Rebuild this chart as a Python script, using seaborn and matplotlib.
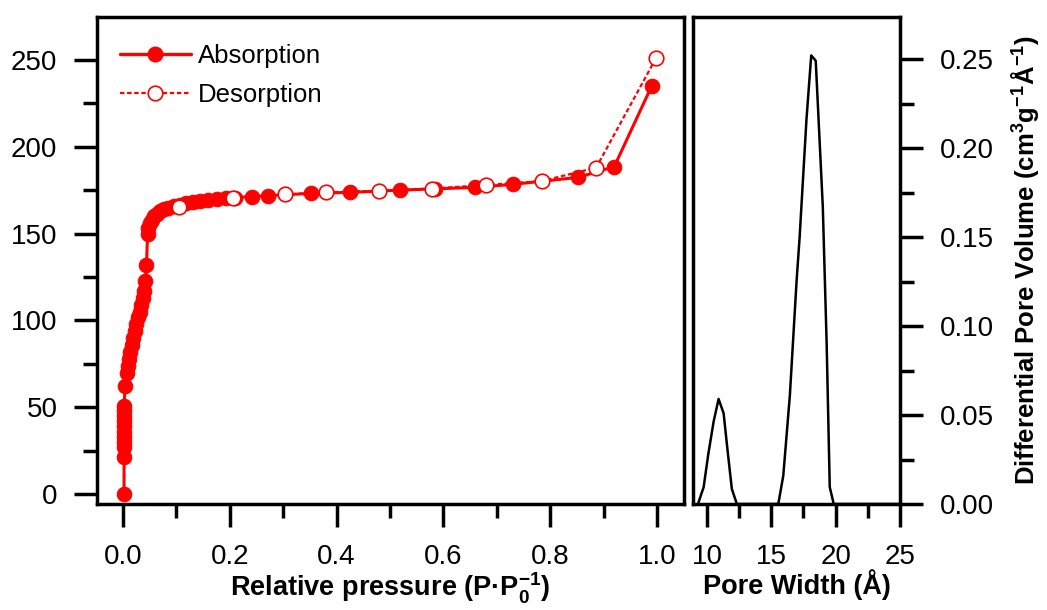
import matplotlib
matplotlib.use("Agg")
import matplotlib.pyplot as plt
import seaborn as sns
from matplotlib.ticker import MultipleLocator, FormatStrFormatter
from matplotlib.lines import Line2D

# ---------------- data ----------------
ads_p = [0.002, 0.002, 0.002, 0.002, 0.002, 0.002, 0.002, 0.002, 0.002, 0.002, 0.002,
         0.004, 0.007, 0.009, 0.011, 0.013, 0.016, 0.019, 0.022, 0.025, 0.028, 0.031,
         0.034, 0.037, 0.040, 0.042, 0.044, 0.046, 0.047, 0.050, 0.054, 0.058, 0.063,
         0.069, 0.076, 0.085, 0.095, 0.106, 0.118, 0.131, 0.145, 0.160, 0.176, 0.193,
         0.210, 0.241, 0.271, 0.353, 0.425, 0.518, 0.585, 0.660, 0.730, 0.852, 0.920, 0.990]
ads_v = [0.0, 21.5, 27, 30, 33, 36, 39, 42, 45, 48, 51,
         62, 70, 74, 78, 82, 86, 90, 94, 98, 102, 105,
         109, 113, 117, 123, 132, 150, 153, 156, 158, 160, 161.5,
         163, 164, 165, 166, 166.8, 167.5, 168.2, 168.8, 169.3, 169.8, 170.3,
         170.8, 171.3, 171.9, 173.2, 173.8, 175.1, 175.8, 176.7, 178.4, 182.4, 188.6, 235]

des_p = [0.998, 0.886, 0.784, 0.679, 0.579, 0.479, 0.380, 0.303, 0.206, 0.104]
des_v = [251, 188, 180.3, 178, 176, 174.7, 173.8, 172.6, 170.7, 165.5]

pore_w = [9.3, 9.74, 10.1, 10.52, 10.9, 11.29, 11.6, 11.93, 12.32, 15.54, 15.93, 16.44,
          16.96, 17.2, 17.73, 18.1, 18.45, 19.0, 19.3, 19.54, 19.85, 25.0]
pore_dv = [0.0, 0.0095, 0.028, 0.0465, 0.059, 0.051, 0.03, 0.0085, 0.0, 0.0, 0.016, 0.061,
           0.125, 0.15, 0.216, 0.252, 0.249, 0.167, 0.09, 0.0095, 0.0, 0.0]

series_labels = ["Absorption", "Desorption"]

# ---------------- style ----------------
sns.set_style("white")
plt.rcParams["font.family"] = ["Liberation Sans", "DejaVu Sans"]
plt.rcParams["mathtext.fontset"] = "custom"
plt.rcParams["mathtext.rm"] = "Liberation Sans:bold"
plt.rcParams["mathtext.bf"] = "Liberation Sans:bold"
plt.rcParams["mathtext.default"] = "bf"
for k in ("text.color", "axes.labelcolor", "xtick.color", "ytick.color", "axes.edgecolor"):
    plt.rcParams[k] = "black"

RED = "#ff0000"
TICK_FS = 20
LAB_FS = 19.5
SPW = 2.5

fig = plt.figure(figsize=(10.47, 6.10), dpi=100)
W, H = 1047, 610
ax1 = fig.add_axes([97 / W, 1 - 504 / H, (684 - 97) / W, (504 - 17) / H])
ax2 = fig.add_axes([693 / W, 1 - 504 / H, (900 - 693) / W, (504 - 17) / H])

# ---------------- left: isotherm ----------------
sns.lineplot(x=ads_p, y=ads_v, ax=ax1, estimator=None, sort=False, color=RED,
             linewidth=2.2, marker="o", markersize=10.5, markeredgecolor=RED,
             markerfacecolor=RED, zorder=2)
sns.lineplot(x=des_p, y=des_v, ax=ax1, estimator=None, sort=False, color=RED,
             linewidth=1.6, linestyle=(0, (2, 1.2)), marker="o", markersize=10.5,
             markeredgecolor=RED, markerfacecolor="white", markeredgewidth=1.2, zorder=3)

ax1.set_xlim(-0.0487, 1.0506)
ax1.set_ylim(-5.7, 274.8)
ax1.xaxis.set_major_locator(MultipleLocator(0.2))
ax1.xaxis.set_minor_locator(MultipleLocator(0.1))
ax1.yaxis.set_major_locator(MultipleLocator(50))
ax1.yaxis.set_minor_locator(MultipleLocator(25))
ax1.xaxis.set_major_formatter(FormatStrFormatter("%.1f"))
ax1.tick_params(which="both", direction="out", width=SPW, labelsize=TICK_FS,
                bottom=True, left=True, top=False, right=False)
ax1.tick_params(which="major", length=16.5, pad=12)
ax1.tick_params(which="minor", length=10)
ax1.set_xlabel(r"Relative pressure (P·P$_{0}^{-1}$)", fontsize=LAB_FS,
               fontweight="bold", labelpad=1)
ax1.set_ylabel("")

handles = [
    Line2D([], [], color=RED, linewidth=2.4, marker="o", markersize=10.5,
           markerfacecolor=RED, markeredgecolor=RED),
    Line2D([], [], color=RED, linewidth=1.6, linestyle=(0, (2, 1.2)), marker="o",
           markersize=10.5, markerfacecolor="white", markeredgecolor=RED, markeredgewidth=1.2),
]
ax1.legend(handles, series_labels, loc="upper left", frameon=False, fontsize=18.5,
           handlelength=2.75, handletextpad=0.27, labelspacing=0.58,
           borderaxespad=0, borderpad=0, bbox_to_anchor=(0.039, 0.944))

# ---------------- right: pore size distribution ----------------
sns.lineplot(x=pore_w, y=pore_dv, ax=ax2, estimator=None, sort=False,
             color="black", linewidth=1.8)
ax2.set_xlim(8.912, 25)
ax2.set_ylim(0, 0.2736)
ax2.xaxis.set_major_locator(MultipleLocator(5))
ax2.xaxis.set_minor_locator(MultipleLocator(2.5))
ax2.yaxis.set_major_locator(MultipleLocator(0.05))
ax2.yaxis.set_minor_locator(MultipleLocator(0.025))
ax2.yaxis.set_major_formatter(FormatStrFormatter("%.2f"))
ax2.yaxis.tick_right()
ax2.yaxis.set_label_position("right")
ax2.tick_params(which="both", direction="out", width=SPW, labelsize=TICK_FS,
                bottom=True, right=True, left=False, top=False)
ax2.tick_params(which="major", length=16.5, pad=12)
ax2.tick_params(which="minor", length=10)
ax2.set_xlabel("Pore Width (Å)", fontsize=LAB_FS, fontweight="bold", labelpad=0)
ax2.set_ylabel(r"Differential Pore Volume (cm$^{3}$g$^{-1}$Å$^{-1}$)",
               fontsize=18.5, fontweight="bold", labelpad=11)

for ax in (ax1, ax2):
    for s in ax.spines.values():
        s.set_visible(True)
        s.set_color("black")
        s.set_linewidth(SPW)

fig.savefig("out.png", dpi=100)
